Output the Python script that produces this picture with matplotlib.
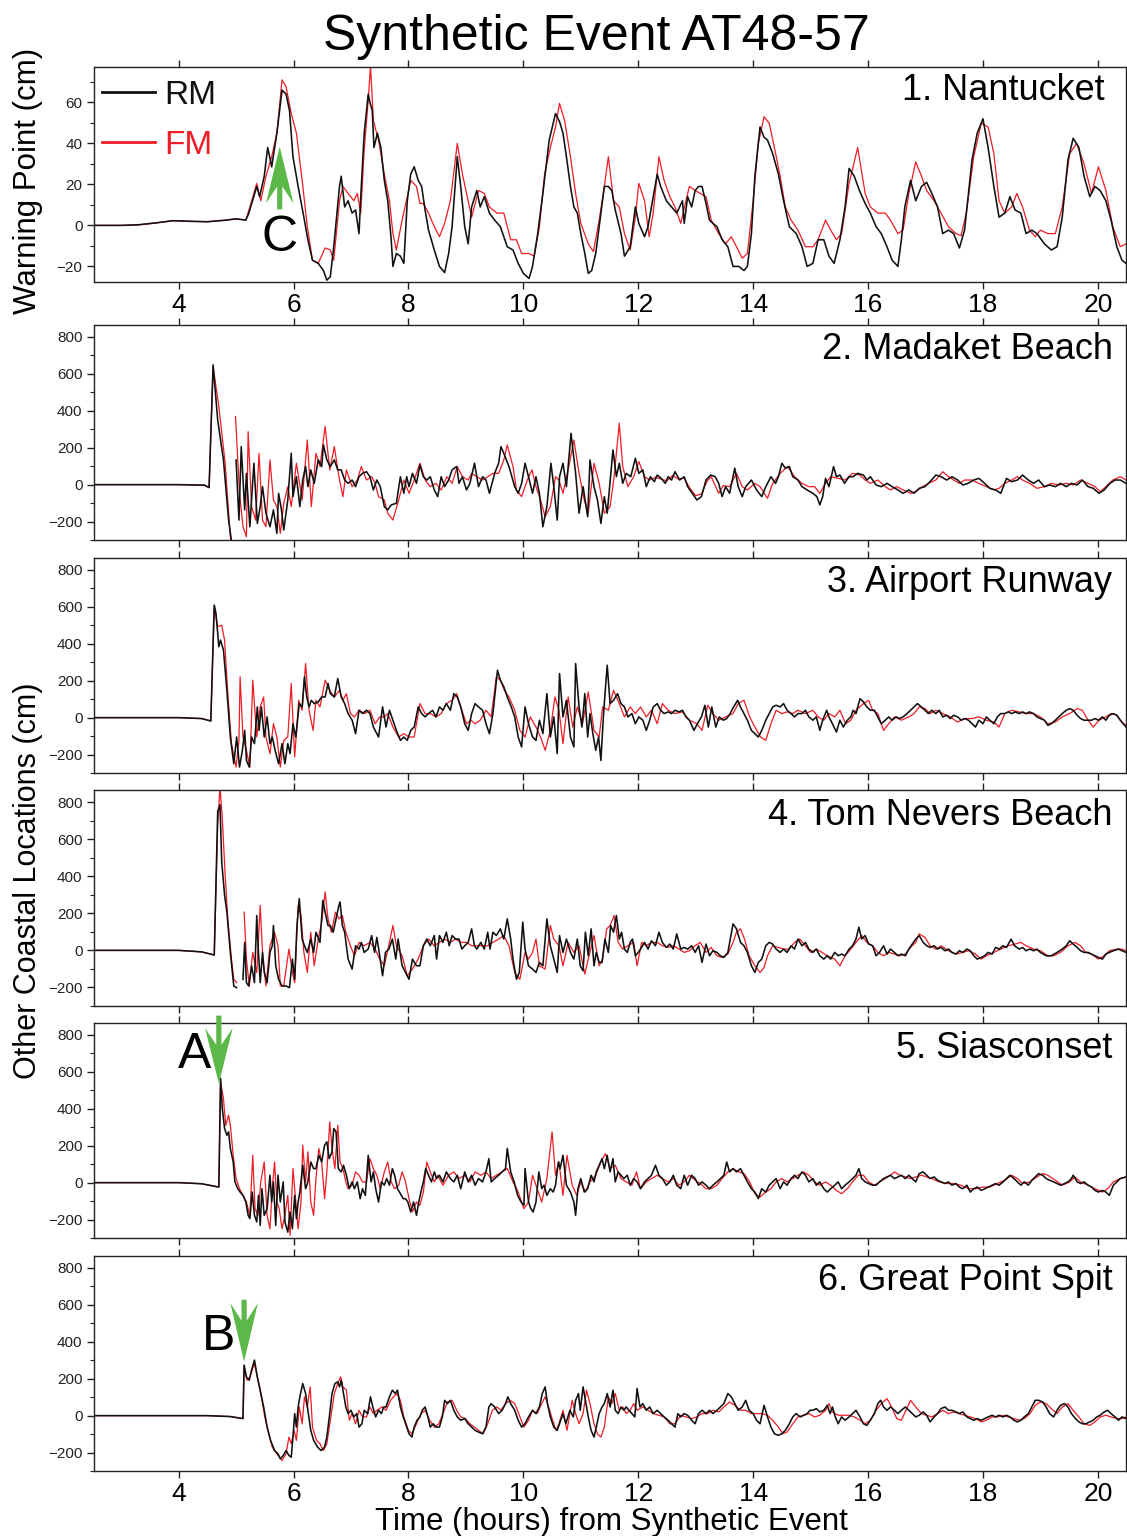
import numpy as np
import matplotlib
matplotlib.use("Agg")
import matplotlib.pyplot as plt
from matplotlib.ticker import MultipleLocator

plt.rcParams.update({
    "font.family": ["Liberation Sans", "DejaVu Sans"],
    "axes.linewidth": 1.0,
    "axes.edgecolor": "#222222",
})

nan = np.nan

TITLE = "Synthetic Event AT48-57"
STATIONS = ["1. Nantucket", "2. Madaket Beach", "3. Airport Runway",
            "4. Tom Nevers Beach", "5. Siasconset", "6. Great Point Spit"]
SERIES = ["RM", "FM"]
XTICKS = [4, 6, 8, 10, 12, 14, 16, 18, 20]
P1_YTICKS = [-20, 0, 20, 40, 60]
P_YTICKS = [-200, 0, 200, 400, 600, 800]

# (hours, cm)
NANTUCKET_RM = [(2.52,0),(3.0,0),(3.3,0.3),(3.6,1.2),(3.9,2.3),(4.2,2.0),(4.5,1.8),(4.8,2.5),(5.0,3.2),(5.17,2.6),
    (5.22,5.8),(5.36,19),(5.41,14),(5.49,24),(5.55,38),(5.62,28.6),(5.71,45),(5.80,66),(5.87,64),(5.93,56),(5.99,33.5),
    (6.08,19),(6.18,4),(6.25,-7),(6.33,-17),(6.43,-18.5),(6.52,-22),(6.58,-26.7),(6.64,-25),(6.70,-10.4),(6.80,19),
    (6.83,24),(6.89,9),(6.95,12),(7.02,6),(7.08,7.5),(7.14,-4),(7.17,14),(7.23,45),(7.30,64),(7.33,60),(7.37,56),
    (7.40,38),(7.46,45),(7.52,38),(7.58,22),(7.64,12),(7.70,-7),(7.73,-20),(7.79,-13.7),(7.86,-15),(7.92,-18.5),
    (7.98,12),(8.04,25),(8.10,28.6),(8.17,22),(8.23,19),(8.29,7.5),(8.35,-2.3),(8.45,-12),(8.54,-20),(8.63,-23),
    (8.70,-13.7),(8.76,-0.6),(8.85,33.5),(8.91,19),(8.98,-0.6),(9.04,-9),(9.10,9),(9.19,17),(9.25,9),(9.32,14),
    (9.41,6),(9.50,2.6),(9.60,-0.6),(9.72,-10.4),(9.82,-12),(9.91,-18.5),(10.0,-23.4),(10.10,-25.9),(10.16,-20),
    (10.25,-4),(10.34,15.6),(10.45,41.6),(10.56,54.6),(10.63,50.6),(10.69,45),(10.75,33.5),(10.82,19),(10.88,9),
    (10.94,6),(11.0,-4),(11.07,-13.7),(11.13,-23.4),(11.19,-22),(11.26,-13.7),(11.32,-0.6),(11.41,19),(11.48,19),
    (11.54,17),(11.60,7.5),(11.70,-4),(11.76,-15),(11.86,-10.4),(11.95,9),(12.01,1),(12.11,-5.5),(12.17,-0.6),
    (12.23,9),(12.33,25),(12.39,19),(12.49,12),(12.58,9),(12.67,6),(12.77,12),(12.80,1),(12.86,14),(12.93,9),
    (12.99,17),(13.05,19),(13.11,19),(13.18,10.7),(13.24,2.6),(13.30,1),(13.37,-0.6),(13.46,-7),(13.56,-10.4),
    (13.65,-20),(13.75,-20),(13.84,-22),(13.90,-20),(13.97,-4),(14.03,24),(14.12,48),(14.19,43),(14.25,41.6),
    (14.34,35),(14.44,25),(14.53,12),(14.63,-0.6),(14.75,-4),(14.85,-10.4),(14.94,-20),(15.04,-18.5),(15.13,-7),
    (15.23,-7),(15.32,-15),(15.41,-18.5),(15.51,-7),(15.60,9),(15.67,27.8),(15.76,24),(15.85,17),(15.95,10.7),
    (16.04,6),(16.14,-0.6),(16.23,-4),(16.33,-10.4),(16.42,-17),(16.52,-20),(16.58,-7),(16.64,9),(16.74,22),
    (16.83,12),(16.93,19),(17.02,21),(17.11,15.6),(17.21,9),(17.30,-4),(17.40,-2.3),(17.49,-4),(17.59,-11),
    (17.68,-2.3),(17.81,32),(17.90,45),(18.00,52),(18.09,38),(18.19,19),(18.28,4),(18.38,6),(18.47,14),(18.56,7.5),
    (18.66,6),(18.75,-4),(18.85,-2.3),(18.94,-4),(19.07,-9),(19.19,-12),(19.29,-10.4),(19.38,4),(19.48,32),
    (19.57,42.5),(19.67,38),(19.76,24),(19.86,14),(19.95,19),(20.04,17),(20.14,12),(20.23,2.6),(20.33,-10.4),
    (20.42,-17),(20.49,-18.5)]
NANTUCKET_FM = [(2.52,0),(3.0,0),(3.3,0.3),(3.6,1.2),(3.9,2.3),(4.2,2.0),(4.5,1.8),(4.8,2.5),(5.0,3.2),(5.17,2.6),
    (5.24,9),(5.36,20.5),(5.43,12),(5.52,24),(5.62,33.5),(5.71,45),(5.80,71),(5.87,67.6),(5.96,54.6),(6.05,45),
    (6.15,22),(6.24,-0.6),(6.33,-17),(6.43,-18.5),(6.55,-11),(6.64,-12),(6.70,-17),(6.80,12),(6.86,19),(6.95,15.6),
    (7.05,12),(7.11,15.6),(7.17,6),(7.23,36.7),(7.30,61),(7.34,78),(7.39,51),(7.48,41.6),(7.58,25),(7.67,12),
    (7.73,-4),(7.79,-12),(7.89,2.6),(7.98,14),(8.04,22),(8.14,19),(8.20,10.7),(8.26,10.7),(8.35,6),(8.45,-0.6),
    (8.54,-5.5),(8.63,1),(8.73,12),(8.85,40),(8.94,25),(9.04,12),(9.10,4),(9.22,17),(9.32,15.6),(9.41,9),(9.54,6),
    (9.66,6),(9.78,-7),(9.88,-7),(9.97,-13.7),(10.10,-13.7),(10.19,-15),(10.28,-0.6),(10.37,25),(10.47,38),
    (10.56,48),(10.63,59.5),(10.72,51),(10.82,33.5),(10.91,15.6),(11.0,1),(11.13,-9),(11.22,-12.8),(11.32,2.6),
    (11.41,19),(11.48,33.5),(11.57,12),(11.67,9),(11.76,-4),(11.86,-12),(11.95,4),(12.01,20.5),(12.11,12),
    (12.19,-5.5),(12.26,6),(12.36,33.5),(12.45,22),(12.55,14),(12.64,9),(12.74,1),(12.83,12),(12.89,19),(12.99,17),
    (13.08,15.6),(13.18,14),(13.27,2.6),(13.40,-4),(13.52,-9),(13.62,-5.5),(13.71,-10.4),(13.81,-16),(13.90,-13.7),
    (14.0,12),(14.09,40),(14.19,53),(14.28,49.8),(14.37,38),(14.47,24),(14.56,9),(14.66,2.6),(14.78,-2.3),
    (14.91,-10.4),(15.04,-10.4),(15.13,-7),(15.26,2.6),(15.35,-2.3),(15.45,-7),(15.54,-4),(15.67,20.5),(15.82,38),
    (15.95,15.6),(16.04,9),(16.17,6),(16.30,6),(16.39,2.6),(16.52,-4),(16.61,-2.3),(16.71,15.6),(16.83,31),
    (16.93,24),(17.02,17),(17.15,12),(17.27,6),(17.40,-0.6),(17.53,-4),(17.62,-5),(17.71,6),(17.84,33.5),
    (17.97,49.8),(18.09,48),(18.19,35),(18.28,12),(18.38,6),(18.50,9),(18.59,15.6),(18.69,9),(18.81,-2.3),
    (18.91,-5.5),(19.0,-2.3),(19.13,-4),(19.26,-4),(19.38,9),(19.51,35),(19.63,40),(19.76,30),(19.89,15.6),
    (20.01,28.6),(20.14,17),(20.26,-0.6),(20.39,-10.4),(20.49,-9)]

MADAKET_RM = [(2.52,0),(4.0,0),(4.45,-3),(4.53,-16),(4.60,649),(4.68,350),(4.78,134),(4.87,-192),(4.93,-330),
    (4.96,nan),(5.00,134),(5.05,-192),(5.09,206),(5.15,-137),(5.18,61),(5.24,-228),(5.31,116),(5.37,-210),
    (5.42,-119),(5.46,-11),(5.52,-155),(5.59,-228),(5.65,-137),(5.71,-264),(5.74,-47),(5.79,-137),(5.83,-246),
    (5.90,-83),(5.96,170),(5.99,-65),(6.05,43),(6.11,-119),(6.16,25),(6.21,98),(6.25,-11),(6.30,80),(6.36,7),
    (6.43,134),(6.49,98),(6.52,215),(6.58,134),(6.64,98),(6.71,134),(6.77,80),(6.83,80),(6.89,25),(6.95,7),
    (7.02,25),(7.08,-11),(7.14,43),(7.20,61),(7.27,70),(7.33,43),(7.39,-29),(7.45,25),(7.51,-11),(7.58,-119),
    (7.64,-137),(7.70,-110),(7.79,-101),(7.86,43),(7.92,-47),(7.97,43),(8.01,-11),(8.07,61),(8.14,7),(8.20,107),
    (8.26,43),(8.32,25),(8.38,43),(8.45,-29),(8.51,-65),(8.57,43),(8.63,-11),(8.70,25),(8.76,80),(8.84,98),(8.88,7),
    (8.94,43),(9.01,-29),(9.07,7),(9.15,116),(9.22,-11),(9.29,43),(9.35,25),(9.41,-47),(9.50,61),(9.57,116),
    (9.61,206),(9.66,170),(9.75,98),(9.85,-11),(9.91,-47),(9.97,7),(10.03,116),(10.09,43),(10.16,-47),(10.22,43),
    (10.28,-47),(10.34,-228),(10.41,-119),(10.48,116),(10.53,-11),(10.59,-192),(10.63,43),(10.69,116),(10.75,-11),
    (10.83,278),(10.91,61),(10.97,-155),(11.04,-11),(11.12,-174),(11.16,134),(11.23,-11),(11.29,-83),(11.35,-210),
    (11.41,-65),(11.46,-155),(11.56,188),(11.62,43),(11.67,116),(11.73,7),(11.79,61),(11.87,43),(11.95,143),
    (12.01,61),(12.08,80),(12.14,-11),(12.21,43),(12.28,16),(12.33,52),(12.40,34),(12.47,7),(12.52,43),(12.58,25),
    (12.64,70),(12.72,25),(12.80,43),(12.86,-11),(12.94,-47),(13.02,-83),(13.10,-65),(13.18,25),(13.26,52),
    (13.34,43),(13.40,7),(13.46,-65),(13.52,-11),(13.59,-47),(13.68,89),(13.74,-11),(13.81,-65),(13.87,-11),
    (13.97,25),(14.06,-29),(14.15,-65),(14.22,-11),(14.31,43),(14.39,7),(14.44,43),(14.50,116),(14.56,89),
    (14.63,98),(14.69,43),(14.78,25),(14.85,-11),(14.94,-29),(15.04,-47),(15.11,-65),(15.16,-110),(15.21,-65),
    (15.26,34),(15.32,-11),(15.40,98),(15.45,43),(15.51,52),(15.59,7),(15.67,43),(15.74,43),(15.82,61),(15.92,52),
    (15.98,25),(16.04,43),(16.14,-2),(16.23,-11),(16.33,7),(16.42,-11),(16.52,-29),(16.61,-47),(16.71,-29),
    (16.80,-47),(16.89,-20),(16.99,-11),(17.08,16),(17.18,52),(17.27,43),(17.37,25),(17.46,43),(17.56,25),
    (17.65,-2),(17.74,7),(17.84,25),(17.93,34),(18.03,7),(18.12,-20),(18.22,-29),(18.31,-47),(18.41,34),(18.50,16),
    (18.60,25),(18.69,52),(18.79,25),(18.88,7),(18.97,25),(19.07,-11),(19.16,-2),(19.26,-11),(19.35,7),(19.45,-11),
    (19.54,7),(19.64,-2),(19.73,25),(19.83,-11),(19.92,-20),(20.02,-47),(20.11,-29),(20.21,7),(20.30,25),
    (20.39,25),(20.49,7)]
MADAKET_FM = [(2.52,0),(4.0,0),(4.45,-3),(4.53,-16),(4.60,640),(4.70,423),(4.81,116),(4.90,-282),(4.94,-340),
    (4.96,nan),(4.99,369),(5.06,-47),(5.12,-228),(5.18,-282),(5.21,287),(5.27,-119),(5.34,-192),(5.40,170),
    (5.46,-192),(5.52,-228),(5.59,134),(5.65,-83),(5.71,-119),(5.77,-264),(5.83,-101),(5.90,-11),(5.96,-119),
    (6.05,116),(6.15,-83),(6.24,242),(6.31,-119),(6.39,170),(6.46,98),(6.55,315),(6.63,80),(6.71,206),(6.79,43),
    (6.86,-65),(6.92,80),(7.02,-11),(7.11,25),(7.18,98),(7.27,25),(7.36,43),(7.42,7),(7.48,-65),(7.58,-83),
    (7.64,-155),(7.73,-192),(7.83,-83),(7.92,25),(8.01,-47),(8.10,25),(8.20,116),(8.29,25),(8.38,-11),(8.48,7),
    (8.57,-29),(8.67,43),(8.76,7),(8.85,98),(8.94,43),(9.04,25),(9.10,61),(9.19,43),(9.29,25),(9.38,43),(9.47,61),
    (9.57,61),(9.66,134),(9.72,215),(9.82,98),(9.88,-29),(9.97,-65),(10.07,25),(10.15,80),(10.22,-11),(10.30,-83),
    (10.38,-174),(10.47,-119),(10.56,43),(10.62,25),(10.69,-47),(10.78,80),(10.88,242),(10.97,61),(11.06,-83),
    (11.13,-155),(11.23,116),(11.32,7),(11.41,-155),(11.51,-119),(11.58,43),(11.67,333),(11.73,98),(11.82,-11),
    (11.92,43),(12.01,125),(12.11,43),(12.20,25),(12.30,40),(12.40,30),(12.50,20),(12.60,50),(12.70,30),(12.80,35),
    (12.90,-20),(13.00,-60),(13.10,-50),(13.20,20),(13.27,43),(13.40,-47),(13.48,-5),(13.59,-11),(13.71,61),
    (13.81,-11),(13.90,-29),(14.03,7),(14.12,-11),(14.25,-74),(14.34,7),(14.47,61),(14.60,98),(14.72,43),(14.85,7),
    (14.97,-11),(15.07,-11),(15.16,-47),(15.26,7),(15.35,43),(15.48,34),(15.60,25),(15.73,61),(15.86,52),(15.95,25),
    (16.04,7),(16.17,25),(16.30,-11),(16.39,-29),(16.50,-11),(16.61,-29),(16.74,-47),(16.83,-38),(16.95,-11),
    (17.05,7),(17.18,25),(17.30,70),(17.40,43),(17.49,25),(17.59,7),(17.68,25),(17.81,25),(17.93,7),(18.06,-11),
    (18.19,-29),(18.28,-20),(18.38,7),(18.50,25),(18.60,43),(18.69,25),(18.81,7),(18.94,-20),(19.07,-11),(19.19,7),
    (19.32,-2),(19.45,7),(19.57,-2),(19.70,25),(19.83,7),(19.95,-11),(20.04,-38),(20.14,-11),(20.26,25),(20.39,43),
    (20.49,25)]

AIRPORT_RM = [(2.52,0),(4.0,0),(4.40,-5),(4.56,-18),(4.62,610),(4.65,565),(4.70,384),(4.73,420),(4.78,366),
    (4.84,148),(4.90,-105),(4.96,-250),(5.01,-105),(5.06,-268),(5.11,-177),(5.15,-69),(5.18,-232),(5.23,-268),
    (5.27,-105),(5.32,-141),(5.37,58),(5.40,-69),(5.44,58),(5.49,-105),(5.54,4),(5.59,-141),(5.63,-105),(5.68,-177),
    (5.74,-250),(5.80,-141),(5.85,-250),(5.90,-141),(5.94,-195),(5.99,-33),(6.04,-105),(6.10,76),(6.15,58),
    (6.19,221),(6.23,112),(6.27,58),(6.31,94),(6.36,76),(6.43,85),(6.49,112),(6.55,112),(6.60,185),(6.64,130),
    (6.71,112),(6.77,212),(6.83,112),(6.89,76),(6.95,22),(7.02,-14),(7.08,-87),(7.14,40),(7.20,22),(7.27,40),
    (7.33,22),(7.39,-51),(7.48,-105),(7.55,58),(7.61,-51),(7.67,40),(7.73,-14),(7.79,-69),(7.86,-123),(7.92,-105),
    (7.98,-123),(8.04,-69),(8.10,-51),(8.17,58),(8.23,22),(8.29,4),(8.35,22),(8.42,40),(8.48,4),(8.54,58),(8.60,40),
    (8.66,76),(8.73,40),(8.79,130),(8.85,112),(8.91,58),(8.98,-33),(9.04,-69),(9.10,22),(9.16,76),(9.22,58),
    (9.29,40),(9.35,-33),(9.41,-87),(9.47,22),(9.55,257),(9.60,203),(9.66,167),(9.72,112),(9.79,58),(9.85,4),
    (9.91,-105),(9.97,-159),(10.03,58),(10.09,-33),(10.16,-105),(10.22,-123),(10.28,-14),(10.34,-87),(10.41,130),
    (10.47,-105),(10.53,4),(10.59,-195),(10.63,239),(10.69,4),(10.75,94),(10.82,-105),(10.88,-159),(10.91,293),
    (10.97,58),(11.02,-51),(11.07,130),(11.12,-105),(11.16,22),(11.21,-87),(11.26,-177),(11.31,-105),(11.35,-232),
    (11.40,40),(11.46,284),(11.51,76),(11.57,94),(11.64,130),(11.70,76),(11.76,58),(11.82,4),(11.89,22),(11.95,-33),
    (12.01,4),(12.08,-14),(12.14,-69),(12.20,-14),(12.26,58),(12.33,76),(12.39,40),(12.45,22),(12.52,31),(12.58,22),
    (12.64,40),(12.71,31),(12.77,40),(12.83,4),(12.89,-14),(12.97,-69),(13.03,-33),(13.10,4),(13.16,67),(13.22,-51),
    (13.28,58),(13.35,-51),(13.41,4),(13.48,-14),(13.54,-5),(13.60,22),(13.66,58),(13.73,94),(13.78,58),(13.84,22),
    (13.90,-14),(13.97,-69),(14.03,-87),(14.09,-105),(14.15,-69),(14.22,-14),(14.28,22),(14.34,58),(14.40,67),
    (14.47,58),(14.53,76),(14.59,40),(14.66,22),(14.72,4),(14.78,22),(14.85,22),(14.91,40),(14.97,4),(15.04,-14),
    (15.10,4),(15.16,-69),(15.21,-14),(15.28,40),(15.32,4),(15.38,-33),(15.45,-78),(15.51,-14),(15.57,-51),
    (15.64,-14),(15.70,4),(15.74,40),(15.79,22),(15.86,103),(15.92,85),(15.98,58),(16.04,40),(16.11,40),(16.17,4),
    (16.23,-33),(16.30,-14),(16.36,4),(16.42,-14),(16.49,4),(16.55,-5),(16.61,4),(16.68,22),(16.74,40),(16.80,58),
    (16.86,76),(16.93,58),(16.99,40),(17.05,22),(17.11,40),(17.18,22),(17.24,40),(17.30,4),(17.37,13),(17.43,-5),
    (17.49,13),(17.56,4),(17.62,-14),(17.68,-5),(17.75,-14),(17.81,-33),(17.87,-51),(17.93,-14),(18.00,-33),
    (18.06,4),(18.12,-14),(18.19,-33),(18.25,4),(18.31,22),(18.38,22),(18.44,31),(18.50,22),(18.56,31),(18.63,22),
    (18.69,31),(18.75,22),(18.81,31),(18.88,22),(18.94,4),(19.00,-5),(19.07,-14),(19.13,-42),(19.19,-33),
    (19.26,-14),(19.32,4),(19.38,22),(19.45,40),(19.51,49),(19.57,40),(19.64,13),(19.70,-5),(19.76,-14),(19.83,-14),
    (19.89,-14),(19.95,-5),(20.01,-14),(20.08,4),(20.14,-14),(20.20,13),(20.27,22),(20.33,13),(20.39,-14),
    (20.49,-51)]
AIRPORT_FM = [(2.52,0),(4.0,0),(4.40,-5),(4.56,-18),(4.62,601),(4.68,492),(4.75,501),(4.80,420),(4.86,112),
    (4.92,-141),(5.00,-268),(5.05,-123),(5.07,221),(5.12,-105),(5.18,-177),(5.24,-268),(5.29,203),(5.36,-105),
    (5.42,58),(5.48,112),(5.52,-105),(5.59,-195),(5.65,-33),(5.71,-105),(5.77,-268),(5.83,-123),(5.90,-105),
    (5.96,185),(6.02,-213),(6.09,94),(6.15,40),(6.21,293),(6.27,40),(6.34,-69),(6.39,94),(6.46,58),(6.55,203),
    (6.63,148),(6.71,112),(6.80,148),(6.86,94),(6.92,130),(6.99,22),(7.06,4),(7.14,40),(7.24,22),(7.33,40),
    (7.42,-33),(7.50,4),(7.58,4),(7.64,22),(7.73,-51),(7.83,-105),(7.92,-87),(8.01,-105),(8.10,-105),(8.20,76),
    (8.29,22),(8.38,22),(8.48,4),(8.57,22),(8.66,76),(8.76,94),(8.84,130),(8.93,40),(9.01,-33),(9.09,-14),
    (9.16,-33),(9.25,-14),(9.35,40),(9.44,4),(9.53,221),(9.60,203),(9.67,148),(9.75,112),(9.85,40),(9.94,-69),
    (10.03,-105),(10.12,4),(10.22,-51),(10.30,-105),(10.38,-177),(10.47,-69),(10.55,112),(10.62,40),(10.69,-141),
    (10.78,112),(10.86,-51),(10.94,58),(11.03,-33),(11.13,139),(11.23,-69),(11.32,-105),(11.38,58),(11.48,40),
    (11.57,148),(11.67,76),(11.76,4),(11.86,58),(11.95,22),(12.04,58),(12.14,4),(12.23,40),(12.33,-33),(12.42,76),
    (12.52,40),(12.64,22),(12.77,31),(12.89,-14),(13.02,-33),(13.11,-69),(13.21,67),(13.30,22),(13.40,-14),
    (13.52,4),(13.65,22),(13.74,76),(13.84,94),(13.94,4),(14.03,-51),(14.13,-105),(14.22,-123),(14.31,-33),
    (14.40,40),(14.50,22),(14.59,31),(14.69,22),(14.78,40),(14.91,22),(15.04,40),(15.13,4),(15.23,-14),(15.32,22),
    (15.42,4),(15.51,40),(15.61,-33),(15.70,-14),(15.79,40),(15.92,76),(16.01,94),(16.08,40),(16.17,22),(16.27,-69),
    (16.36,-33),(16.46,4),(16.58,-14),(16.71,4),(16.80,22),(16.89,58),(16.99,49),(17.08,22),(17.18,40),(17.30,22),
    (17.43,4),(17.56,-24),(17.68,-5),(17.81,-5),(17.93,4),(18.06,-14),(18.19,-24),(18.28,-51),(18.38,22),(18.50,40),
    (18.63,31),(18.75,22),(18.88,22),(19.00,4),(19.13,-33),(19.26,-24),(19.38,4),(19.51,22),(19.64,49),(19.73,40),
    (19.83,-14),(19.92,-51),(20.02,-14),(20.14,4),(20.23,22),(20.33,13),(20.42,-24),(20.49,-42)]

TOMNEVERS_RM = [(2.52,0),(4.0,0),(4.40,-8),(4.62,-25),(4.68,749),(4.72,785),(4.75,478),(4.80,297),(4.84,206),
    (4.90,-11),(4.96,-192),(5.01,-201),(5.06,nan),(5.12,-156),(5.15,43),(5.18,-174),(5.22,-192),(5.27,-83),
    (5.32,-174),(5.36,188),(5.38,43),(5.42,-174),(5.46,-11),(5.49,-119),(5.54,-174),(5.59,-11),(5.63,25),(5.65,134),
    (5.69,-83),(5.74,-156),(5.80,-192),(5.87,-192),(5.93,-201),(5.98,-47),(6.02,-156),(6.06,134),(6.10,279),
    (6.15,61),(6.19,25),(6.24,-11),(6.30,61),(6.35,-11),(6.39,98),(6.46,43),(6.51,270),(6.55,206),(6.60,134),
    (6.64,134),(6.69,98),(6.74,170),(6.79,243),(6.81,261),(6.85,134),(6.89,98),(6.95,-47),(7.02,-101),(7.08,25),
    (7.14,7),(7.18,43),(7.23,-11),(7.30,7),(7.36,80),(7.41,-11),(7.45,70),(7.50,-29),(7.55,-137),(7.60,-11),
    (7.66,7),(7.72,61),(7.78,-47),(7.82,61),(7.89,-83),(7.95,-119),(8.01,-156),(8.07,-47),(8.14,-83),(8.20,-83),
    (8.26,25),(8.32,61),(8.38,25),(8.45,80),(8.49,-47),(8.54,80),(8.60,43),(8.66,98),(8.71,25),(8.76,80),(8.82,61),
    (8.88,61),(8.93,7),(8.98,25),(9.04,43),(9.10,116),(9.15,25),(9.19,7),(9.26,43),(9.32,7),(9.38,98),(9.42,7),
    (9.47,98),(9.53,80),(9.60,116),(9.66,61),(9.72,170),(9.78,61),(9.82,-47),(9.88,-156),(9.93,-119),(9.99,152),
    (10.03,7),(10.09,-83),(10.16,-101),(10.22,-119),(10.28,-65),(10.34,-83),(10.41,170),(10.47,25),(10.53,-47),
    (10.59,-119),(10.63,80),(10.69,-11),(10.75,61),(10.82,-11),(10.88,-47),(10.94,61),(10.99,-83),(11.04,-110),
    (11.08,98),(11.13,-29),(11.18,116),(11.23,-83),(11.27,-11),(11.32,-65),(11.37,-65),(11.42,61),(11.48,-11),
    (11.52,134),(11.57,98),(11.62,188),(11.67,61),(11.71,98),(11.76,7),(11.81,-11),(11.86,43),(11.90,61),
    (11.95,-29),(12.00,-11),(12.04,7),(12.11,43),(12.17,7),(12.23,52),(12.30,25),(12.36,98),(12.42,43),(12.49,16),
    (12.55,34),(12.61,7),(12.67,89),(12.74,7),(12.80,16),(12.86,7),(12.93,25),(12.99,-11),(13.05,25),(13.11,-65),
    (13.18,34),(13.24,-29),(13.30,-2),(13.37,-11),(13.43,-29),(13.49,-38),(13.56,-11),(13.65,143),(13.71,116),
    (13.78,43),(13.84,25),(13.90,-11),(13.97,-83),(14.03,-119),(14.09,-65),(14.15,-47),(14.22,25),(14.28,43),
    (14.34,34),(14.40,7),(14.47,-11),(14.53,7),(14.59,-11),(14.66,25),(14.72,7),(14.78,61),(14.85,25),(14.91,43),
    (14.97,7),(15.04,-11),(15.10,7),(15.16,-29),(15.23,-47),(15.29,-29),(15.35,-47),(15.42,-11),(15.48,-29),
    (15.54,-20),(15.60,-29),(15.67,7),(15.73,25),(15.79,61),(15.84,125),(15.89,61),(15.95,80),(16.01,34),(16.08,25),
    (16.14,-29),(16.20,-11),(16.27,25),(16.33,-20),(16.39,7),(16.46,-11),(16.52,-29),(16.58,-20),(16.65,-29),
    (16.71,7),(16.77,34),(16.83,61),(16.89,80),(16.96,43),(17.02,25),(17.08,16),(17.15,25),(17.21,7),(17.27,16),
    (17.34,-2),(17.40,7),(17.46,-11),(17.53,-20),(17.59,-2),(17.65,-11),(17.72,7),(17.78,-2),(17.84,-29),
    (17.90,-47),(17.97,-38),(18.03,-29),(18.09,-11),(18.16,-20),(18.22,16),(18.28,7),(18.35,25),(18.41,16),
    (18.49,61),(18.55,25),(18.63,7),(18.69,16),(18.75,-2),(18.82,7),(18.88,-2),(18.94,7),(19.00,-11),(19.10,-29),
    (19.19,-29),(19.29,-11),(19.38,7),(19.45,25),(19.51,52),(19.57,34),(19.64,16),(19.70,-2),(19.76,-11),
    (19.83,-11),(19.89,-20),(19.95,-29),(20.01,-38),(20.08,-47),(20.14,-20),(20.20,-11),(20.27,-2),(20.36,7),
    (20.42,-2),(20.49,-11)]
TOMNEVERS_FM = [(2.52,0),(4.0,0),(4.40,-8),(4.62,-25),(4.68,677),(4.72,880),(4.76,713),(4.81,405),(4.86,152),
    (4.92,-47),(4.96,-156),(5.01,-174),(5.06,nan),(5.14,206),(5.18,-47),(5.23,-192),(5.29,-11),(5.36,-119),
    (5.42,243),(5.46,-11),(5.52,-192),(5.59,25),(5.67,98),(5.73,25),(5.77,-192),(5.83,-192),(5.92,7),(5.98,-119),
    (6.02,-174),(6.08,243),(6.13,188),(6.18,-11),(6.24,-119),(6.30,98),(6.36,-83),(6.43,61),(6.49,152),(6.55,315),
    (6.60,170),(6.66,98),(6.73,206),(6.79,170),(6.85,188),(6.91,98),(6.99,25),(7.06,-29),(7.14,43),(7.23,25),
    (7.33,43),(7.42,7),(7.50,-47),(7.58,-83),(7.67,43),(7.73,134),(7.79,25),(7.89,-29),(7.98,-137),(8.07,-101),
    (8.17,-47),(8.26,25),(8.35,61),(8.45,25),(8.54,43),(8.63,61),(8.73,43),(8.82,61),(8.91,43),(9.01,43),(9.10,25),
    (9.19,25),(9.29,25),(9.38,25),(9.47,43),(9.57,61),(9.66,80),(9.75,25),(9.85,-119),(9.94,-156),(10.03,-11),
    (10.09,-47),(10.16,-11),(10.22,61),(10.28,-83),(10.38,-101),(10.47,134),(10.53,61),(10.62,25),(10.69,-83),
    (10.78,43),(10.88,-11),(10.97,25),(11.07,-128),(11.13,-47),(11.23,80),(11.32,-83),(11.38,-47),(11.45,116),
    (11.51,134),(11.58,188),(11.65,43),(11.73,7),(11.82,25),(11.92,43),(11.98,-83),(12.06,43),(12.14,25),(12.23,43),
    (12.33,43),(12.42,25),(12.52,16),(12.61,25),(12.71,7),(12.80,-11),(12.89,-2),(12.99,25),(13.08,43),(13.18,-11),
    (13.27,16),(13.37,-29),(13.46,-38),(13.56,-20),(13.65,43),(13.71,98),(13.78,116),(13.85,61),(13.93,-29),
    (14.03,-83),(14.12,-119),(14.19,-92),(14.25,-29),(14.34,25),(14.44,16),(14.53,7),(14.63,7),(14.72,43),
    (14.81,61),(14.91,25),(15.00,-11),(15.10,7),(15.20,-11),(15.29,-29),(15.42,-47),(15.51,-83),(15.60,-29),
    (15.70,7),(15.79,43),(15.89,80),(15.98,43),(16.08,25),(16.17,-11),(16.27,-29),(16.36,-11),(16.46,-20),
    (16.55,-29),(16.65,-20),(16.74,16),(16.83,43),(16.89,89),(16.99,70),(17.08,25),(17.18,7),(17.27,25),(17.40,-2),
    (17.53,-20),(17.65,-11),(17.75,-2),(17.87,-20),(17.97,-47),(18.06,-29),(18.19,-11),(18.31,7),(18.44,25),
    (18.56,34),(18.66,43),(18.75,25),(18.88,7),(19.00,-2),(19.13,-29),(19.23,-29),(19.35,-11),(19.48,25),(19.60,43),
    (19.70,25),(19.79,-11),(19.89,-20),(20.01,-47),(20.11,-29),(20.20,-2),(20.33,7),(20.42,7),(20.49,-2)]

SIASCONSET_RM = [(2.52,0),(4.0,0),(4.40,-6),(4.70,-24),(4.73,565),(4.76,402),(4.80,293),(4.84,257),(4.87,275),
    (4.90,185),(4.95,112),(4.98,4),(5.03,-33),(5.07,-51),(5.12,-69),(5.17,-105),(5.21,-177),(5.24,-195),(5.28,-51),
    (5.32,-177),(5.36,-213),(5.39,-69),(5.42,-232),(5.45,-33),(5.49,-177),(5.54,-141),(5.59,40),(5.62,-105),
    (5.65,4),(5.69,-232),(5.73,40),(5.77,-105),(5.82,4),(5.85,-213),(5.90,-268),(5.94,-159),(5.98,-250),(6.02,-69),
    (6.05,-195),(6.08,-105),(6.11,-51),(6.16,94),(6.21,-33),(6.25,4),(6.30,112),(6.35,76),(6.39,76),(6.44,148),
    (6.49,112),(6.54,203),(6.58,221),(6.62,130),(6.67,167),(6.70,293),(6.74,275),(6.78,76),(6.83,58),(6.87,94),
    (6.92,40),(6.97,-33),(7.02,4),(7.06,-33),(7.11,4),(7.16,-87),(7.20,-33),(7.25,-69),(7.30,148),(7.35,4),
    (7.39,58),(7.43,-33),(7.48,-105),(7.53,4),(7.58,-14),(7.62,22),(7.67,-14),(7.72,76),(7.76,40),(7.81,-33),
    (7.86,-60),(7.91,-87),(7.95,-87),(7.99,-105),(8.04,-159),(8.09,-105),(8.14,-177),(8.18,-105),(8.23,-33),
    (8.26,4),(8.30,76),(8.35,40),(8.40,4),(8.45,58),(8.49,22),(8.54,40),(8.60,4),(8.66,58),(8.73,22),(8.79,4),
    (8.85,40),(8.91,-33),(8.98,58),(9.04,4),(9.10,40),(9.16,-14),(9.22,22),(9.29,4),(9.35,58),(9.40,130),(9.44,4),
    (9.50,22),(9.57,40),(9.63,58),(9.69,76),(9.72,185),(9.78,58),(9.84,4),(9.90,-69),(9.96,-105),(10.01,-123),
    (10.03,76),(10.09,-105),(10.13,-141),(10.17,-159),(10.22,-105),(10.27,58),(10.32,-33),(10.36,-14),(10.41,-69),
    (10.47,-33),(10.52,-51),(10.56,-14),(10.61,112),(10.64,76),(10.69,148),(10.75,-14),(10.82,-51),(10.88,-105),
    (10.91,-177),(10.95,-33),(11.00,22),(11.06,-51),(11.12,-33),(11.18,40),(11.23,4),(11.27,58),(11.32,94),
    (11.37,130),(11.41,76),(11.46,148),(11.51,58),(11.56,130),(11.60,4),(11.65,58),(11.70,40),(11.75,22),(11.81,40),
    (11.86,-14),(11.92,22),(11.98,4),(12.04,-33),(12.11,4),(12.17,22),(12.23,40),(12.30,94),(12.36,40),(12.42,22),
    (12.49,-14),(12.55,4),(12.61,40),(12.67,-14),(12.74,-33),(12.80,40),(12.86,-14),(12.93,40),(12.99,22),
    (13.05,-14),(13.11,4),(13.18,-14),(13.24,-33),(13.30,-14),(13.37,4),(13.43,22),(13.49,40),(13.54,112),
    (13.59,58),(13.65,76),(13.71,58),(13.78,76),(13.84,40),(13.90,4),(13.97,-33),(14.03,-51),(14.09,-87),
    (14.15,-33),(14.22,-51),(14.28,-14),(14.34,4),(14.40,22),(14.47,-33),(14.53,4),(14.59,-14),(14.66,22),
    (14.72,40),(14.78,22),(14.85,58),(14.91,40),(14.97,4),(15.04,22),(15.10,-14),(15.16,4),(15.23,-33),(15.29,-51),
    (15.35,-33),(15.42,-14),(15.48,4),(15.54,-33),(15.60,-14),(15.67,4),(15.73,22),(15.79,40),(15.84,76),(15.89,22),
    (15.95,4),(16.01,-5),(16.08,-14),(16.14,-14),(16.20,4),(16.27,22),(16.33,31),(16.39,40),(16.46,22),(16.52,31),
    (16.58,40),(16.65,22),(16.71,40),(16.77,22),(16.83,4),(16.89,49),(16.96,58),(17.02,40),(17.08,22),(17.15,31),
    (17.21,13),(17.27,4),(17.34,-5),(17.40,4),(17.46,-14),(17.53,-5),(17.59,-24),(17.65,-33),(17.72,-14),
    (17.78,-51),(17.84,-33),(17.90,-24),(17.97,-42),(18.03,-33),(18.09,-24),(18.16,-14),(18.22,-5),(18.28,-14),
    (18.35,4),(18.41,22),(18.47,40),(18.54,22),(18.60,4),(18.66,-14),(18.72,4),(18.79,-14),(18.85,13),(18.91,31),
    (18.97,49),(19.04,40),(19.10,22),(19.16,13),(19.23,4),(19.29,-5),(19.35,-14),(19.42,-5),(19.48,4),(19.54,22),
    (19.57,40),(19.64,4),(19.70,-5),(19.76,4),(19.83,-14),(19.89,-24),(19.95,-42),(20.01,-51),(20.08,-42),
    (20.14,-51),(20.20,-69),(20.27,-14),(20.33,4),(20.39,22),(20.49,31)]
SIASCONSET_FM = [(2.52,0),(4.0,0),(4.40,-6),(4.70,-24),(4.73,547),(4.78,456),(4.82,311),(4.87,366),(4.90,311),
    (4.95,148),(5.00,22),(5.06,-33),(5.12,-69),(5.18,-105),(5.24,-177),(5.29,148),(5.33,-141),(5.38,-177),(5.43,4),
    (5.49,112),(5.54,-177),(5.59,-250),(5.63,-33),(5.67,112),(5.71,-105),(5.75,-141),(5.80,-250),(5.85,-177),
    (5.90,-69),(5.94,-286),(5.99,76),(6.04,-105),(6.08,-250),(6.13,-105),(6.16,203),(6.21,4),(6.25,167),(6.30,-105),
    (6.35,-177),(6.39,22),(6.44,185),(6.49,112),(6.54,-87),(6.58,58),(6.63,329),(6.67,185),(6.72,76),(6.77,311),
    (6.81,112),(6.86,76),(6.91,4),(6.95,-33),(7.02,-14),(7.08,58),(7.14,40),(7.20,4),(7.27,4),(7.33,130),(7.39,76),
    (7.45,40),(7.51,-33),(7.58,58),(7.64,112),(7.70,4),(7.76,-33),(7.83,-14),(7.89,58),(7.95,4),(8.01,-87),
    (8.07,-159),(8.14,-105),(8.20,-123),(8.26,-51),(8.32,112),(8.38,58),(8.45,4),(8.51,40),(8.60,-14),(8.70,40),
    (8.79,58),(8.88,22),(8.98,40),(9.07,4),(9.16,58),(9.26,40),(9.35,58),(9.44,22),(9.53,40),(9.63,58),(9.72,76),
    (9.82,4),(9.91,-51),(10.01,-141),(10.09,-105),(10.16,40),(10.22,-14),(10.32,-105),(10.41,22),(10.50,275),
    (10.56,40),(10.62,112),(10.69,-69),(10.76,148),(10.85,-14),(10.93,-69),(11.00,4),(11.08,-51),(11.16,4),
    (11.26,40),(11.35,112),(11.43,157),(11.51,76),(11.60,94),(11.70,22),(11.79,4),(11.89,-14),(11.97,58),
    (12.04,-33),(12.14,4),(12.23,22),(12.33,40),(12.42,22),(12.52,4),(12.61,22),(12.71,-14),(12.80,4),(12.89,40),
    (12.99,13),(13.08,-5),(13.18,-33),(13.27,-33),(13.37,-14),(13.46,22),(13.56,58),(13.65,76),(13.75,58),
    (13.84,49),(13.94,4),(14.03,-60),(14.12,-78),(14.22,-51),(14.31,-33),(14.40,4),(14.50,22),(14.59,4),(14.69,22),
    (14.78,40),(14.88,58),(14.97,40),(15.07,4),(15.16,-14),(15.26,4),(15.35,-14),(15.45,-42),(15.54,-60),
    (15.64,-33),(15.73,4),(15.83,40),(15.92,40),(16.01,4),(16.11,-14),(16.20,4),(16.30,22),(16.39,40),(16.46,58),
    (16.55,40),(16.65,31),(16.74,22),(16.83,31),(16.93,40),(17.02,31),(17.11,22),(17.24,4),(17.37,-5),(17.49,-5),
    (17.62,-14),(17.75,-33),(17.87,-33),(18.00,-24),(18.12,-24),(18.25,-5),(18.38,13),(18.50,40),(18.60,22),
    (18.69,-5),(18.82,4),(18.94,31),(19.04,49),(19.13,40),(19.26,13),(19.38,-14),(19.51,4),(19.60,31),(19.70,4),
    (19.83,-14),(19.95,-33),(20.08,-51),(20.17,-33),(20.27,4),(20.39,22),(20.49,31)]

GREATPOINT_RM = [(2.52,0),(4.5,0),(4.9,-5),(5.12,-16),(5.14,274),(5.18,210),(5.23,192),(5.27,247),(5.32,301),
    (5.37,210),(5.42,138),(5.48,47),(5.54,-62),(5.60,-134),(5.67,-189),(5.73,-207),(5.77,-234),(5.82,-216),
    (5.87,-189),(5.92,-216),(5.96,-225),(5.99,-116),(6.02,11),(6.05,-62),(6.08,47),(6.11,102),(6.16,174),(6.21,120),
    (6.25,29),(6.30,-80),(6.35,-134),(6.42,-171),(6.48,-189),(6.54,-171),(6.58,-116),(6.63,11),(6.67,120),
    (6.72,174),(6.77,183),(6.80,156),(6.83,192),(6.87,120),(6.91,47),(6.95,11),(7.00,29),(7.05,-7),(7.10,11),
    (7.14,-62),(7.19,-44),(7.23,29),(7.29,11),(7.34,102),(7.38,47),(7.43,-7),(7.48,29),(7.53,11),(7.57,47),
    (7.61,47),(7.67,102),(7.72,138),(7.77,120),(7.81,138),(7.86,47),(7.91,-7),(7.95,-44),(8.01,-98),(8.06,-116),
    (8.10,-62),(8.15,-25),(8.20,-7),(8.24,29),(8.29,47),(8.34,-7),(8.38,-62),(8.43,-44),(8.48,-62),(8.54,-62),
    (8.59,-7),(8.63,83),(8.68,65),(8.73,83),(8.79,29),(8.85,-7),(8.91,-25),(8.98,-16),(9.04,-44),(9.10,-62),
    (9.16,-80),(9.22,-89),(9.29,-98),(9.35,-62),(9.40,47),(9.44,65),(9.50,47),(9.57,11),(9.63,29),(9.69,65),
    (9.73,102),(9.78,65),(9.85,29),(9.91,-25),(9.97,-62),(10.03,-44),(10.09,-7),(10.16,29),(10.22,11),(10.28,47),
    (10.33,120),(10.38,156),(10.42,65),(10.47,-7),(10.53,-62),(10.59,-80),(10.63,-44),(10.69,11),(10.74,-44),
    (10.81,29),(10.87,-7),(10.91,83),(10.96,120),(10.99,29),(11.04,156),(11.08,83),(11.13,-7),(11.18,-80),
    (11.23,-116),(11.27,-62),(11.32,11),(11.37,47),(11.41,65),(11.46,120),(11.51,47),(11.56,138),(11.60,29),
    (11.65,11),(11.70,47),(11.75,29),(11.79,47),(11.84,29),(11.89,11),(11.94,-7),(11.98,147),(12.03,47),(12.08,65),
    (12.14,29),(12.20,47),(12.26,11),(12.33,29),(12.39,11),(12.45,-7),(12.52,-25),(12.58,-44),(12.64,-62),
    (12.69,11),(12.74,-7),(12.80,11),(12.86,2),(12.93,-25),(12.99,-44),(13.05,11),(13.11,29),(13.18,11),(13.24,29),
    (13.30,11),(13.37,29),(13.43,47),(13.49,65),(13.56,120),(13.62,102),(13.68,65),(13.74,29),(13.81,47),(13.87,83),
    (13.93,29),(14.00,11),(14.06,-25),(14.12,-44),(14.19,56),(14.25,-7),(14.31,-62),(14.37,-98),(14.44,-107),
    (14.50,-98),(14.56,-80),(14.63,-44),(14.69,-7),(14.75,11),(14.82,-7),(14.88,2),(14.94,11),(14.99,29),(15.04,29),
    (15.10,38),(15.16,20),(15.23,29),(15.29,56),(15.34,11),(15.38,47),(15.43,-7),(15.48,-44),(15.54,-7),(15.60,-25),
    (15.67,-7),(15.73,11),(15.79,29),(15.86,-7),(15.92,-44),(15.98,-53),(16.04,-25),(16.11,11),(16.17,65),
    (16.22,83),(16.27,47),(16.33,29),(16.39,47),(16.46,29),(16.52,11),(16.58,29),(16.65,47),(16.71,29),(16.77,11),
    (16.83,-7),(16.89,2),(16.96,20),(17.02,2),(17.08,-34),(17.15,-7),(17.21,11),(17.27,38),(17.34,47),(17.40,29),
    (17.46,29),(17.53,20),(17.59,11),(17.65,20),(17.72,-7),(17.78,-16),(17.84,-25),(17.90,-16),(17.97,-25),
    (18.03,-16),(18.09,-7),(18.16,2),(18.22,-7),(18.28,2),(18.35,-7),(18.41,2),(18.47,-7),(18.54,-25),(18.60,-34),
    (18.66,-25),(18.72,-7),(18.79,11),(18.85,47),(18.91,83),(18.97,83),(19.04,74),(19.10,47),(19.16,11),(19.23,-7),
    (19.29,29),(19.35,56),(19.42,65),(19.48,47),(19.54,11),(19.61,-16),(19.67,-34),(19.73,-44),(19.79,-44),
    (19.86,-34),(19.92,-25),(19.98,-7),(20.04,2),(20.11,20),(20.17,29),(20.23,11),(20.30,-7),(20.36,-25),
    (20.42,-7),(20.49,-16)]
GREATPOINT_FM = [(2.52,0),(4.5,0),(4.9,-5),(5.12,-16),(5.14,265),(5.19,192),(5.24,210),(5.32,283),(5.38,192),
    (5.44,102),(5.50,-7),(5.57,-98),(5.63,-171),(5.71,-207),(5.80,-243),(5.87,-207),(5.92,-116),(5.96,-152),
    (6.01,-80),(6.05,-134),(6.10,47),(6.15,-44),(6.19,102),(6.24,47),(6.29,156),(6.33,-62),(6.40,-134),(6.46,-152),
    (6.52,-189),(6.58,-152),(6.65,-7),(6.71,120),(6.77,174),(6.82,210),(6.86,156),(6.92,138),(6.97,-25),(7.02,11),
    (7.08,-44),(7.14,29),(7.20,-7),(7.27,-7),(7.33,47),(7.39,11),(7.45,29),(7.54,47),(7.61,29),(7.69,83),(7.74,102),
    (7.80,120),(7.86,83),(7.92,-7),(8.00,-80),(8.06,-98),(8.14,-44),(8.22,11),(8.29,29),(8.37,-25),(8.45,-62),
    (8.53,-44),(8.60,11),(8.68,74),(8.76,83),(8.84,29),(8.91,-7),(8.99,-16),(9.07,-44),(9.15,-62),(9.22,-80),
    (9.30,-98),(9.38,-44),(9.46,29),(9.54,47),(9.61,29),(9.69,65),(9.77,83),(9.85,65),(9.92,11),(10.01,-62),
    (10.09,-25),(10.16,29),(10.24,11),(10.32,65),(10.38,102),(10.44,47),(10.51,-25),(10.57,-80),(10.62,-44),
    (10.69,29),(10.76,-80),(10.85,83),(10.91,11),(10.97,-44),(11.04,11),(11.10,138),(11.16,65),(11.23,-44),
    (11.29,-98),(11.35,-116),(11.41,-62),(11.48,102),(11.54,65),(11.60,120),(11.67,29),(11.73,47),(11.79,11),
    (11.86,29),(11.92,65),(11.98,29),(12.08,47),(12.17,29),(12.26,11),(12.36,2),(12.45,-7),(12.55,-44),(12.64,-44),
    (12.74,2),(12.83,-7),(12.93,-16),(13.02,-7),(13.11,11),(13.21,11),(13.30,29),(13.40,20),(13.49,47),(13.59,74),
    (13.68,56),(13.78,29),(13.87,29),(13.97,11),(14.06,11),(14.15,11),(14.25,2),(14.34,-25),(14.44,-62),(14.52,-98),
    (14.59,-89),(14.69,-44),(14.78,-7),(14.88,2),(14.97,11),(15.07,-7),(15.16,2),(15.26,29),(15.32,65),(15.38,20),
    (15.48,2),(15.57,2),(15.67,2),(15.76,-7),(15.86,-25),(15.95,-44),(16.04,-25),(16.14,29),(16.23,65),(16.33,92),
    (16.41,47),(16.50,-16),(16.58,-25),(16.66,29),(16.74,83),(16.83,47),(16.93,11),(17.02,2),(17.11,-7),(17.21,11),
    (17.30,29),(17.40,11),(17.49,20),(17.59,11),(17.68,2),(17.78,-7),(17.87,-16),(17.97,-34),(18.06,-25),
    (18.16,-7),(18.25,-7),(18.35,2),(18.44,-7),(18.54,-16),(18.63,-25),(18.72,-16),(18.82,11),(18.91,56),
    (19.00,74),(19.10,65),(19.19,38),(19.29,11),(19.38,47),(19.48,65),(19.57,29),(19.67,-7),(19.76,-44),
    (19.86,-53),(19.95,-34),(20.04,-7),(20.14,2),(20.23,-7),(20.33,-16),(20.42,-16),(20.49,-7)]

PANELS = [(NANTUCKET_RM, NANTUCKET_FM), (MADAKET_RM, MADAKET_FM), (AIRPORT_RM, AIRPORT_FM),
          (TOMNEVERS_RM, TOMNEVERS_FM), (SIASCONSET_RM, SIASCONSET_FM), (GREATPOINT_RM, GREATPOINT_FM)]

# green markers: (panel, letter, x, tail y, tip y, letter x, letter y)
MARKERS = [(0, "C", 5.76, 7.8, 38.4, 5.75, -6.0),
           (4, "A", 4.70, 905.0, 537.0, 4.27, 690.0),
           (5, "B", 5.14, 628.0, 292.0, 4.70, 428.0)]
MARKER_HEAD = {0: 27.7, 4: 300.0, 5: 318.0}

RM_COLOR = "#111111"
FM_COLOR = "#ee1c25"
GREEN = "#5cb848"

W, H = 1127, 1536
LEFT, RIGHT = 93.6, 1126.0
BOXES = [(66.7, 282.0), (325.0, 540.0), (558.0, 773.0), (790.0, 1006.0), (1023.0, 1238.0), (1256.0, 1471.0)]
LABEL_POS = [(0.979, 0.845), (0.987, 0.84), (0.987, 0.842), (0.987, 0.839), (0.987, 0.838), (0.987, 0.84)]


def split(pairs):
    arr = np.array(pairs, dtype=float)
    return arr[:, 0], arr[:, 1]


fig = plt.figure(figsize=(W / 100, H / 100), dpi=100)
axes = []
for i, (top, bot) in enumerate(BOXES):
    ax = fig.add_axes([LEFT / W, 1 - bot / H, (RIGHT - LEFT) / W, (bot - top) / H])
    rm, fm = PANELS[i]
    t_fm, y_fm = split(fm)
    t_rm, y_rm = split(rm)
    l_fm, = ax.plot(t_fm, y_fm, color=FM_COLOR, lw=0.9, label=SERIES[1], zorder=2)
    l_rm, = ax.plot(t_rm, y_rm, color=RM_COLOR, lw=1.15, label=SERIES[0], zorder=3)

    ax.set_xlim(2.52, 20.49)
    ax.set_xticks(XTICKS)
    if i == 0:
        ax.set_ylim(-27.6, 77.4)
        ax.set_yticks(P1_YTICKS)
        ax.yaxis.set_minor_locator(MultipleLocator(10))
    else:
        ax.set_ylim(-300, 865)
        ax.set_yticks(P_YTICKS)
        ax.yaxis.set_minor_locator(MultipleLocator(100))

    ax.tick_params(axis="x", which="major", direction="out", top=True, length=5, width=1,
                   labelsize=19, pad=3, colors="#222222", labelcolor="black",
                   labelbottom=(i in (0, 5)))
    ax.tick_params(axis="y", which="major", direction="out", length=5, width=1,
                   labelsize=11, pad=3, colors="#222222", labelcolor="#222222")
    ax.tick_params(axis="y", which="minor", direction="out", length=3, width=0.8, colors="#222222")

    lx, ly = LABEL_POS[i]
    ax.text(lx, ly, STATIONS[i], transform=ax.transAxes, ha="right", va="baseline", fontsize=26)

    if i == 0:
        leg = ax.legend(handles=[l_rm, l_fm], loc="upper left", bbox_to_anchor=(0.008, 0.94),
                        frameon=False, fontsize=24, handlelength=1.6, handletextpad=0.27,
                        labelspacing=0.57, borderaxespad=0, borderpad=0,
                        labelcolor=[RM_COLOR, FM_COLOR])
        for ln in leg.get_lines():
            ln.set_linewidth(2.0)
    axes.append(ax)

for panel, letter, x, y0, y1, lx, ly in MARKERS:
    ax = axes[panel]
    ax.arrow(x, y0, 0, y1 - y0, width=0.09, head_width=0.48, head_length=MARKER_HEAD[panel],
             length_includes_head=True, overhang=0.3, color=GREEN, lw=0, clip_on=False, zorder=5)
    ax.text(lx, ly, letter, ha="center", va="center", fontsize=36, zorder=6)

fig.text(596 / W, 1 - 50 / H, TITLE, ha="center", va="baseline", fontsize=36)
fig.text(28 / W, 1 - 181 / H, "Warning Point (cm)", rotation=90, ha="center", va="center", fontsize=22.5)
fig.text(28 / W, 1 - 881 / H, "Other Coastal Locations (cm)", rotation=90, ha="center", va="center", fontsize=22)
fig.text(611 / W, 1 - 1530 / H, "Time (hours) from Synthetic Event", ha="center", va="baseline", fontsize=22.5)

fig.savefig("out.png", dpi=100)
